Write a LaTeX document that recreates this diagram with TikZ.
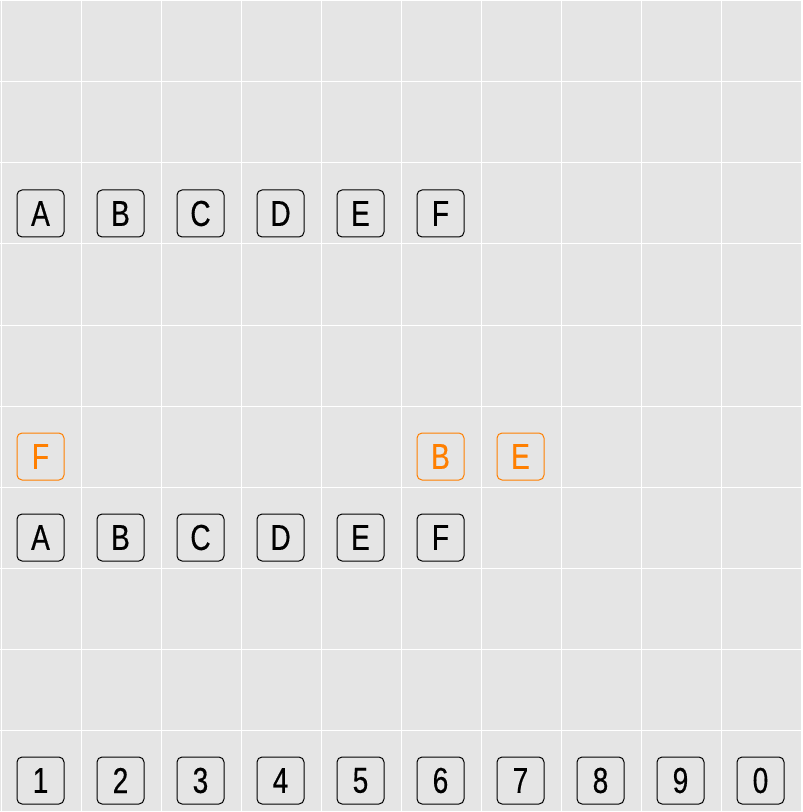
\documentclass[tikz,border=0pt]{standalone}
\usepackage{fontspec}
\setmainfont{Liberation Sans}[FakeStretch=0.78, FakeBold=0.4]
\usetikzlibrary{positioning}

\definecolor{panelGray}{HTML}{E5E5E5}
\definecolor{pickOrange}{HTML}{FF7F00}

\begin{document}
\begin{tikzpicture}[x=0.75pt, y=-0.75pt, node distance=24pt,
    letterBox/.style={draw, rounded corners=3.75pt, line width=0.75pt,
      minimum width=35.25pt, minimum height=35.25pt, inner sep=0pt,
      font=\fontsize{27}{27}\selectfont},
    pickedBox/.style={letterBox, draw=pickOrange, text=pickOrange}]
  % panel and grid
  \fill[panelGray] (0, 0) rectangle (802, 812);
  \useasboundingbox (0, 0) rectangle (802, 812);
  \foreach \gx in {1, 81, ..., 801}
    \draw[white, line width=0.75pt] (\gx, 0) -- (\gx, 812);
  \foreach \gy in {1, 82, ..., 811}
    \draw[white, line width=0.75pt] (0, \gy) -- (802, \gy);
  % first row of letters
  \node[letterBox] (topA) at (40.5, 213.5) {A};
  \node[letterBox, right = of topA] (topB) {B};
  \node[letterBox, right = of topB] (topC) {C};
  \node[letterBox, right = of topC] (topD) {D};
  \node[letterBox, right = of topD] (topE) {E};
  \node[letterBox, right = of topE] (topF) {F};
  % second row of letters
  \node[letterBox] (lowA) at (40.5, 537.5) {A};
  \node[letterBox, right = of lowA] (lowB) {B};
  \node[letterBox, right = of lowB] (lowC) {C};
  \node[letterBox, right = of lowC] (lowD) {D};
  \node[letterBox, right = of lowD] (lowE) {E};
  \node[letterBox, right = of lowE] (lowF) {F};
  % picked letters
  \node[pickedBox, above = 24.75pt of lowA] (pickF) {F};
  \node[pickedBox, above = 24.75pt of lowF] (pickB) {B};
  \node[pickedBox, right = of pickB] (pickE) {E};
  % digits
  \node[letterBox] (digitOne) at (40.5, 780.5) {1};
  \node[letterBox, right = of digitOne] (digitTwo) {2};
  \node[letterBox, right = of digitTwo] (digitThree) {3};
  \node[letterBox, right = of digitThree] (digitFour) {4};
  \node[letterBox, right = of digitFour] (digitFive) {5};
  \node[letterBox, right = of digitFive] (digitSix) {6};
  \node[letterBox, right = of digitSix] (digitSeven) {7};
  \node[letterBox, right = of digitSeven] (digitEight) {8};
  \node[letterBox, right = of digitEight] (digitNine) {9};
  \node[letterBox, right = of digitNine] (digitZero) {0};
\end{tikzpicture}
\end{document}
